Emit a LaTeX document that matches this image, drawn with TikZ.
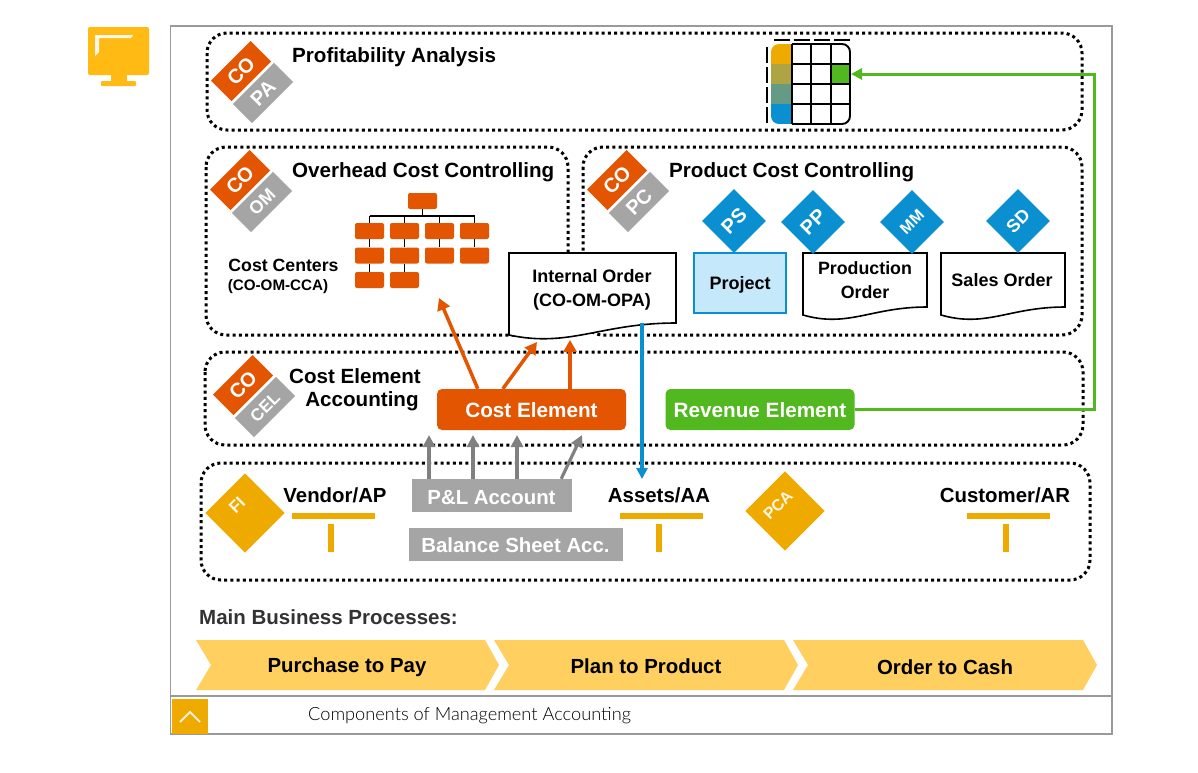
\documentclass[tikz,border=0pt]{standalone}
\usepackage{fontspec}
\setmainfont{Liberation Sans}
\newfontfamily\lightfont{Lato Light}
\usetikzlibrary{arrows.meta,calc}
\definecolor{coorange}{HTML}{E35500}
\definecolor{cogrey}{HTML}{A5A5A5}
\definecolor{argrey}{HTML}{808080}
\definecolor{gold}{HTML}{EFAA00}
\definecolor{iconyel}{HTML}{FFBB14}
\definecolor{sapblue}{HTML}{0A8FD0}
\definecolor{sapgreen}{HTML}{52B81F}
\definecolor{chev}{HTML}{FFCF5F}
\definecolor{lightblue}{HTML}{C5E9FB}
\definecolor{framegrey}{HTML}{9A9A9A}
\definecolor{ctwo}{HTML}{AFA443}
\definecolor{cthree}{HTML}{659B85}
\newcommand{\fs}[1]{\fontsize{#1}{#1}\selectfont}
\tikzset{
 x=1pt,y=-1pt,
 dotbox/.style={draw=black,line width=3pt,dash pattern=on 3pt off 3.2pt,rounded corners=20pt},
 lab/.style={inner sep=0,font=\bfseries\fs{#1},align=center,text=black},
 lab/.default=18,
 corect/.style={fill=coorange,rotate=45,minimum width=56pt,minimum height=29pt,inner sep=0,text=white,font=\bfseries\fs{20}},
 subrect/.style={fill=cogrey,rotate=45,minimum width=58pt,minimum height=27pt,inner sep=0,text=white,font=\bfseries\fs{#1}},
 subrect/.default=20,
 orgbox/.style={fill=coorange,rounded corners=2pt,minimum width=29pt,minimum height=16pt,inner sep=0},
 orgline/.style={draw=black,line width=1.8pt},
 tabline/.style={draw=black,line width=1.9pt},
 diam/.style={fill=sapblue,rotate=45,minimum width=45pt,minimum height=45pt,inner sep=0,text=white,font=\bfseries\fs{#1}},
 diam/.default=20,
 gdiam/.style={fill=gold,rotate=45,minimum width=56pt,minimum height=56pt,inner sep=0},
 doc/.style={draw=black,line width=1.6pt,fill=white,line join=miter},
 orarrow/.style={draw=coorange,line width=3.5pt,-{Triangle[length=12pt,width=13pt]}},
 grarrow/.style={draw=argrey,line width=3.2pt,-{Triangle[length=12pt,width=12pt]}},
 tbar/.style={fill=gold,inner sep=0,minimum width=83pt,minimum height=6pt},
 tstem/.style={fill=gold,inner sep=0,minimum width=6pt,minimum height=28pt},
 acc/.style={fill=cogrey,inner sep=0},
 acctext/.style={inner sep=0,text=white,font=\bfseries\fs{20.4}},
 element/.style={rounded corners=5pt,inner sep=0,minimum width=189pt,minimum height=41pt},
 eltext/.style={inner sep=0,text=white,font=\bfseries\fs{20.7}},
 chevtext/.style={inner sep=0,font=\bfseries\fs{20.4},text=black},
}
\newcommand{\badge}[5]{%
 \node[corect] (#1a) at (#2+30,#3-10) {CO};
 \node[subrect=#5] (#1b) at (#2+52,#3+12) {#4};
}
\newcommand{\chevron}[3]{% x start, x end (shoulder), name
 \fill[chev] (#1,640) -- (#2,640) -- (#2+14,665) -- (#2,690) -- (#1,690) -- (#1+15,665) -- cycle;
}
\newcommand{\docpath}[5]{%
 \draw[doc] (#1,#2) -- (#3,#2) -- (#3,#4) .. controls ($(#1,#4)!0.55!(#3,#4)$) and ($(#1,#5)!0.365!(#3,#5)+(0,13)$) .. (#1,#5) -- cycle;
}
\begin{document}
\begin{tikzpicture}
\useasboundingbox (0,0) rectangle (1198,772);
\fill[white] (0,0) rectangle (1198,772);
% monitor icon
\fill[iconyel,rounded corners=2pt] (88,27) rectangle (149,75);
\fill[iconyel] (111,74) rectangle (127,82);
\fill[iconyel,rounded corners=1pt] (101,81) rectangle (136,86);
\fill[white!90!iconyel] (95,35) -- (133,35) -- (131,38) -- (99,38) -- (99,52) -- (95,56) -- cycle;
% frame
\draw[framegrey,line width=1.6pt] (170.5,26) rectangle (1112,734);
\draw[framegrey,line width=1.6pt] (170.5,696) -- (1112,696);
\node[fill=gold,inner sep=0,minimum width=36pt,minimum height=35pt] (fold) at (190,716) {};
\draw[white!85!gold,line width=2pt] ($(fold.center)+(-10,6)$) -- ($(fold.center)+(0,-4)$) -- ($(fold.center)+(10,6)$);
\node[anchor=west,inner sep=0,text=black,font=\lightfont\fs{18.2}] (foottext) at (308,716) {Components of Management Accounting};
% dotted areas
\draw[dotbox] (207,33) rectangle (1082,130);
\draw[dotbox] (206,147) rectangle (568,335);
\draw[dotbox] (583,147) rectangle (1082,335);
\draw[dotbox] (205,352) rectangle (1083,445);
\draw[dotbox] (201,463) rectangle (1090,580);
% badges
\badge{pa}{211}{81}{PA}{20}
\badge{om}{210}{190}{OM}{18}
\badge{pc}{587}{190}{PC}{20}
\badge{cel}{213}{395}{CEL}{17}
% titles
\node[lab=20.6,anchor=west] (t1) at (292,57.5) {Profitability Analysis};
\node[lab=20.6,anchor=west] (t2) at (292,172) {Overhead Cost Controlling};
\node[lab=20.6,anchor=west] (t3) at (669,172) {Product Cost Controlling};
\node[lab=20.6] (t4) at (355,376) {Cost Element};
\node[lab=20.6] (t5) at (362,401) {Accounting};
% profitability table
\begin{scope}
\clip[rounded corners=8pt] (771,44) rectangle (850,124);
\fill[white] (771,44) rectangle (850,124);
\fill[gold] (771,44) rectangle (792,64);
\fill[ctwo] (771,64) rectangle (792,84);
\fill[cthree] (771,84) rectangle (792,104);
\fill[sapblue] (771,104) rectangle (792,124);
\fill[sapgreen] (831,64) rectangle (850,84);
\end{scope}
\draw[tabline,rounded corners=8pt] (792,44) -- (850,44) -- (850,124) -- (792,124);
\draw[tabline] (792,44) -- (792,124) (811,44) -- (811,124) (831,44) -- (831,124) (792,64) -- (850,64) (792,84) -- (850,84) (792,104) -- (850,104);
\draw[black,line width=1.7pt,dash pattern=on 16pt off 4pt] (774,40) -- (850,40);
\draw[black,line width=1.7pt,dash pattern=on 16pt off 4pt] (767,47) -- (767,123);
\coordinate (greencell) at (851,74);
% org chart
\node[orgbox] (o0) at (422.5,201) {};
\foreach \n/\x in {1/369.5,2/404.5,3/439.5,4/474.5}{
 \node[orgbox] (r1\n) at (\x,231) {};
 \node[orgbox] (r2\n) at (\x,255.5) {};
}
\foreach \n/\x in {1/369.5,2/404.5}{ \node[orgbox] (r3\n) at (\x,280) {}; }
\coordinate (busl) at (370,216);
\coordinate (busr) at (476,216);
\draw[orgline] (o0.south) -- (o0.south |- busl);
\draw[orgline] (r11.north |- busl) -- (r14.north |- busl);
\foreach \n in {1,2,3,4}{
 \draw[orgline] (r1\n.north |- busl) -- (r1\n.north);
 \draw[orgline] (r1\n.south) -- (r2\n.north);
}
\foreach \n in {1,2}{ \draw[orgline] (r2\n.south) -- (r3\n.north); }
\node[lab=17.7] (cc1) at (283.5,265.5) {Cost Centers};
\node[lab=15.2] (cc2) at (278,286.5) {(CO-OM-CCA)};
% Internal order
\docpath{509}{253}{676}{323}{335}
\node[lab=18] (io) at (592,290) {Internal Order\\[6pt](CO-OM-OPA)};
% Project cost docs
\node[draw=sapblue,line width=1.5pt,fill=lightblue,inner sep=0,minimum width=92pt,minimum height=60pt] (proj) at (740,283) {};
\node[lab=18] (projt) at (740,284.5) {Project};
\docpath{803}{253}{927}{307}{315}
\node[lab=17.8] (prod) at (865,280) {Production\\[6pt]Order};
\docpath{941}{253}{1065}{307}{315}
\node[lab=18] (sales) at (1002,280) {Sales Order};
\node[diam=20] (ps) at (734,221) {PS};
\node[diam=20] (pp) at (813,222) {PP};
\node[diam=16] (mm) at (912,222) {MM};
\node[diam=18] (sd) at (1018,221) {SD};
% Elements
\node[element,fill=coorange] (cost) at (531.5,409.5) {};
\node[eltext] (costt) at (531.5,410.5) {Cost Element};
\node[element,fill=sapgreen] (rev) at (760,409.5) {};
\node[eltext] (revt) at (760,410.5) {Revenue Element};
\coordinate (occ) at (439,298);
\coordinate (oc1) at (537,342);
\coordinate (oc2) at (570,340);
\draw[orarrow] ($(cost.north west)+(41,0)$) -- (occ);
\draw[orarrow] ($(cost.north west)+(66,0)$) -- (oc1);
\draw[orarrow] (cost.north -| oc2) -- (oc2);
\coordinate (gc) at (1094,409.5);
\draw[draw=sapgreen,line width=3pt,-{Triangle[length=11pt,width=11pt]}] (rev.east) -- (gc) -- (gc |- greencell) -- (greencell);
% FI row
\node[gdiam] (fi) at (245,513) {};
\node[inner sep=0,rotate=45,text=white!90!gold,font=\bfseries\fs{17}] (fit) at (237,505) {FI};
\node[gdiam] (pca) at (785,511) {};
\node[inner sep=0,rotate=45,text=white!90!gold,font=\bfseries\fs{16}] (pcat) at (778,505) {PCA};
\node[lab=20.4] (ven) at (335,495) {Vendor/AP};
\node[lab=20.4] (ass) at (659,495) {Assets/AA};
\node[lab=20.4] (cus) at (1005,495) {Customer/AR};
\foreach \nm/\x in {a/333.5,b/661.5,c/1008.5}{
 \node[tbar] (bar\nm) at (\x,516) {};
 \node[tstem] (st\nm) at ($(\x,538)+(-2.5,0)$) {};
}
\node[acc,minimum width=160pt,minimum height=33pt] (pl) at (492,495.5) {};
\node[acctext] (plt) at (491.5,497.5) {P\&L Account};
\node[acc,minimum width=214pt,minimum height=33pt] (bs) at (516,544.5) {};
\node[acctext] (bst) at (515.5,545.5) {Balance Sheet Acc.};
\foreach \nm/\x in {a/429,b/473,c/517}{
 \coordinate (g\nm) at (\x,435);
 \draw[grarrow] (pl.north -| g\nm) -- (g\nm);
}
\coordinate (gd) at (582,435);
\draw[grarrow] ($(pl.north east)+(-11,0)$) -- (gd);
% blue arrow
\coordinate (bl) at (642,479);
\coordinate (blt) at (642,323);
\draw[draw=sapblue,line width=3.4pt,-{Triangle[length=11pt,width=11pt]}] (blt) -- (bl);
% processes
\node[anchor=west,inner sep=0,text=black!80,font=\bfseries\fs{20.5}] (mbp) at (199,617) {Main Business Processes:};
\chevron{196}{485}{c1}
\chevron{494}{784}{c2}
\chevron{793}{1083}{c3}
\node[chevtext] (p1) at (347,667.5) {Purchase to Pay};
\node[chevtext] (p2) at (646,666) {Plan to Product};
\node[chevtext] (p3) at (945,667.5) {Order to Cash};
\end{tikzpicture}
\end{document}
